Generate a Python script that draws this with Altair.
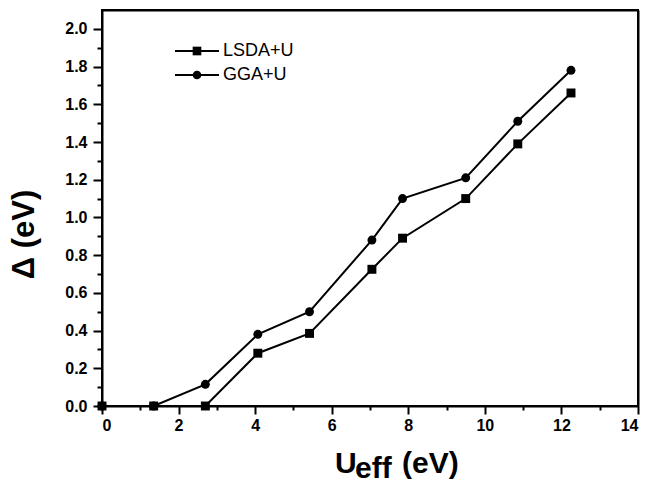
import altair as alt
import pandas as pd

# ---- data ----
u_eff = [0.0, 1.35, 2.7, 4.07, 5.42, 7.05, 7.85, 9.5, 10.86, 12.25]
lsda_u = [0.0, 0.0, 0.0, 0.28, 0.385, 0.725, 0.89, 1.10, 1.39, 1.66]
gga_u = [0.0, 0.0, 0.115, 0.38, 0.50, 0.88, 1.10, 1.21, 1.51, 1.78]
series_names = ["LSDA+U", "GGA+U"]
legend_labels = ["LSDA+U", " GGA+U"]
series_shapes = ["square", "circle"]

x_major = [0, 2, 4, 6, 8, 10, 12, 14]
x_minor = [1, 3, 5, 7, 9, 11, 13]
y_major = [0.0, 0.2, 0.4, 0.6, 0.8, 1.0, 1.2, 1.4, 1.6, 1.8, 2.0]
y_minor = [0.1, 0.3, 0.5, 0.7, 0.9, 1.1, 1.3, 1.5, 1.7, 1.9]

y_title = "Δ (eV)"
x_title_parts = ["U", "eff", "(eV)"]

df = pd.concat([
    pd.DataFrame({"u": u_eff, "d": lsda_u, "series": series_names[0]}),
    pd.DataFrame({"u": u_eff, "d": gga_u, "series": series_names[1]}),
])
legend_df = pd.DataFrame({"series": series_names, "label": legend_labels})

FONT = "Liberation Sans"
xs = alt.Scale(domain=[0, 14], nice=False, zero=False)
ys = alt.Scale(domain=[0, 2.1], nice=False, zero=False)
shape_scale = alt.Scale(domain=series_names, range=series_shapes)

label_style = dict(labelFont=FONT, labelFontWeight="bold", labelFontSize=16,
                   labelColor="black", tickColor="black", domainColor="black")

lines = alt.Chart(df).mark_line(color="black", strokeWidth=2).encode(
    x=alt.X("u:Q", scale=xs, axis=alt.Axis(
        values=x_major, format="d", orient="bottom", title=None, grid=False,
        tickSize=8, tickWidth=2, labelPadding=3, domainWidth=2, **label_style)),
    y=alt.Y("d:Q", scale=ys, axis=alt.Axis(
        values=y_major, format=".1f", orient="left", title=y_title, grid=False,
        tickSize=9, tickWidth=2, labelPadding=6, domainWidth=2,
        titleFontSize=31, titleFont=FONT, titleFontWeight="bold", titleColor="black",
        titleX=-78, titleY=224, titleAngle=270, titleAlign="center",
        titleBaseline="middle", titleAnchor="middle", **label_style)),
    detail="series:N",
)

points = alt.Chart(df).mark_point(filled=True, color="black", size=80, opacity=1).encode(
    x=alt.X("u:Q", scale=xs, axis=alt.Axis(
        values=x_minor, labels=False, domain=False, orient="bottom", title=None,
        grid=False, tickSize=4, tickWidth=2, tickColor="black")),
    y=alt.Y("d:Q", scale=ys, axis=alt.Axis(
        values=y_minor, labels=False, domain=False, orient="left", title=None,
        grid=False, tickSize=5, tickWidth=2, tickColor="black")),
    shape=alt.Shape("series:N", scale=shape_scale, legend=None),
)

# top and right frame lines (axes with domain only)
frame = alt.Chart(df).mark_point(opacity=0).encode(
    x=alt.X("u:Q", scale=xs, axis=alt.Axis(
        orient="top", labels=False, ticks=False, grid=False, title=None,
        domainColor="black", domainWidth=2)),
    y=alt.Y("d:Q", scale=ys, axis=alt.Axis(
        orient="right", labels=False, ticks=False, grid=False, title=None,
        domainColor="black", domainWidth=2)),
)

# ---- legend drawn inside the plot (pixel layout only) ----
leg_y = alt.Y("series:N", scale=alt.Scale(type="point", domain=series_names,
                                          range=[41, 65], padding=0), axis=None)
leg_lines = alt.Chart(legend_df).mark_rule(color="black", strokeWidth=2).encode(
    x=alt.value(73), x2=alt.value(117), y=leg_y)
leg_pts = alt.Chart(legend_df).mark_point(filled=True, color="black", size=75, opacity=1).encode(
    x=alt.value(95), y=leg_y, shape=alt.Shape("series:N", scale=shape_scale, legend=None))
leg_text = alt.Chart(legend_df).mark_text(
    align="left", baseline="middle", font=FONT, fontSize=18, color="black").encode(
    x=alt.value(121), y=leg_y, text="label:N")


def title_piece(txt, x, y, size):
    return alt.Chart(pd.DataFrame({"t": [txt]})).mark_text(
        align="left", baseline="alphabetic", fontSize=size, fontWeight="bold",
        font=FONT, color="black").encode(text="t:N", x=alt.value(x), y=alt.value(y))


t_u = title_piece(x_title_parts[0], 233, 463, 30)
t_eff = title_piece(x_title_parts[1], 253, 468, 30)
t_ev = title_piece(x_title_parts[2], 300, 463, 30)

chart = alt.layer(lines, points, frame, leg_lines, leg_pts, leg_text, t_u, t_eff, t_ev).resolve_axis(
    x="independent", y="independent"
).resolve_scale(y="independent").properties(
    width=536, height=396,
    padding={"left": 102, "top": 10, "right": 9, "bottom": 77},
    autosize=alt.AutoSizeParams(type="none"),
    background="white",
).configure_view(stroke="black", strokeWidth=2).configure_axis(
    labelFont=FONT, labelFontWeight="bold", labelFontSize=16, labelColor="black",
    tickColor="black", domainColor="black", grid=False,
)

chart.save("out.html", embed_options={"renderer": "svg", "actions": False})
